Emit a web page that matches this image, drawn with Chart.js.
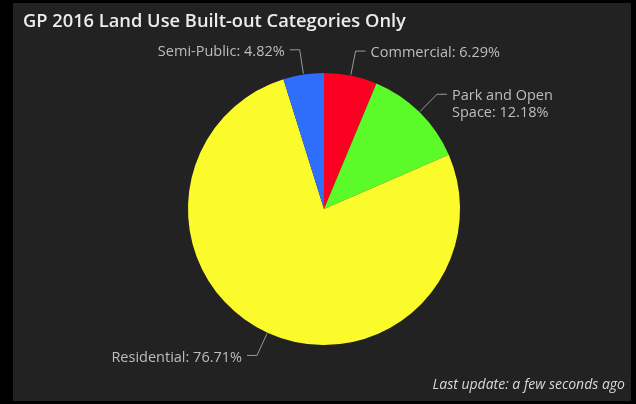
<!DOCTYPE html>
<html>
<head>
<meta charset="utf-8">
<script src="https://cdn.jsdelivr.net/npm/chart.js@4.4.1/dist/chart.umd.min.js"></script>
<style>
    html, body { margin: 0; padding: 0; background: #000; }
    #panel {
        position: absolute;
        left: 13px;
        top: 3px;
        width: 618px;
        height: 398px;
        background: #222222;
    }
</style>
</head>
<body>
<div id="panel"><canvas id="pieChart" width="618" height="398"></canvas></div>
<script>
var categories = ["Commercial", "Park and Open Space", "Residential", "Semi-Public"];
var shares = [6.29, 12.18, 76.71, 4.82];
var sliceColors = ["#fb0021", "#5bfb2a", "#fbfb2c", "#2f6dfb"];

// leader lines + labels drawn next to each slice
var sliceLabels = {
    id: 'sliceLabels',
    afterDatasetsDraw: function (chart) {
        var ctx = chart.ctx;
        var meta = chart.getDatasetMeta(0);
        ctx.save();
        ctx.font = "14.5px 'Open Sans'";
        ctx.lineWidth = 1;
        ctx.strokeStyle = "#9a9a9a";
        ctx.fillStyle = "#bdbdbd";
        ctx.textBaseline = "middle";

        meta.data.forEach(function (arc, i) {
            var p = arc.getProps(['x', 'y', 'startAngle', 'endAngle', 'outerRadius'], true);
            var mid = (p.startAngle + p.endAngle) / 2;
            var cos = Math.cos(mid), sin = Math.sin(mid);
            var x0 = p.x + (p.outerRadius + 1) * cos, y0 = p.y + (p.outerRadius + 1) * sin;
            var x1 = p.x + (p.outerRadius + 25) * cos, y1 = p.y + (p.outerRadius + 25) * sin;
            var dir = cos >= 0 ? 1 : -1;
            var x2 = x1 + dir * 10;

            ctx.beginPath();
            ctx.moveTo(x0, y0);
            ctx.lineTo(x1, y1);
            ctx.lineTo(x2, y1);
            ctx.stroke();

            var tx = x2 + dir * 5;
            var text = categories[i] + ": " + shares[i].toFixed(2) + "%";
            var room = dir > 0 ? chart.width - tx : tx;
            var maxW = room * 0.7;
            var lines = [];
            var cur = "";
            text.split(" ").forEach(function (w) {
                var t = cur ? cur + " " + w : w;
                if (cur && ctx.measureText(t).width > maxW) {
                    lines.push(cur);
                    cur = w;
                } else {
                    cur = t;
                }
            });
            lines.push(cur);

            ctx.textAlign = dir > 0 ? "left" : "right";
            lines.forEach(function (ln, k) {
                ctx.fillText(ln, tx, y1 + 2 + k * 17);
            });
        });
        ctx.restore();
    }
};

new Chart(document.getElementById("pieChart"), {
    type: 'pie',
    data: {
        labels: categories,
        datasets: [{
            data: shares,
            backgroundColor: sliceColors,
            borderWidth: 0
        }]
    },
    options: {
        responsive: false,
        animation: false,
        layout: {
            padding: { left: 10, right: 6, top: 0, bottom: 0 }
        },
        plugins: {
            legend: { display: false },
            tooltip: { enabled: false },
            title: {
                display: true,
                text: "GP 2016 Land Use Built-out Categories Only",
                align: 'start',
                color: "#ececec",
                font: { family: "'Open Sans'", size: 18.3, weight: 600 },
                padding: { top: 8, bottom: 40 }
            },
            subtitle: {
                display: true,
                position: 'bottom',
                align: 'end',
                text: "Last update: a few seconds ago",
                color: "#d8d8d8",
                font: { family: "'Open Sans'", size: 14, style: 'italic' },
                padding: { top: 32, bottom: 7.2 }
            }
        }
    },
    plugins: [sliceLabels]
});
</script>
</body>
</html>
